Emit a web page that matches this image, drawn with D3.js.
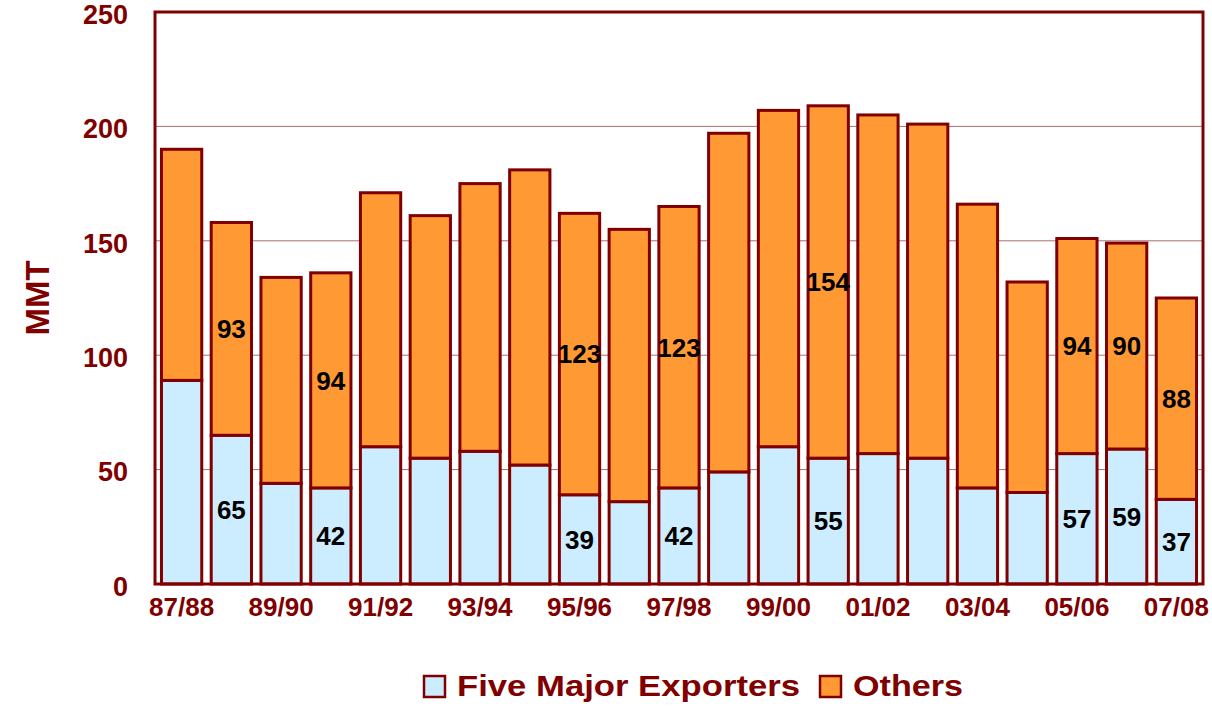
<!DOCTYPE html>
<html>
<head>
<meta charset="utf-8">
<script src="https://cdn.jsdelivr.net/npm/d3@7"></script>
<style>
  body { margin: 0; background: #fff; }
  svg text { font-family: "Liberation Sans", Arial, sans-serif; font-weight: bold; }
</style>
</head>
<body>
<div id="chart"></div>
<script>
const w = 1212;
const h = 718;

// marketing years
const years = ["87/88", "88/89", "89/90", "90/91", "91/92", "92/93", "93/94", "94/95",
    "95/96", "96/97", "97/98", "98/99", "99/00", "00/01", "01/02", "02/03",
    "03/04", "04/05", "05/06", "06/07", "07/08"];

// MMT
const fiveMajor = [89, 65, 44, 42, 60, 55, 58, 52, 39, 36, 42, 49, 60, 55, 57, 55, 42, 40, 57, 59, 37];
const others = [101, 93, 90, 94, 111, 106, 117, 129, 123, 119, 123, 148, 147, 154, 148, 146, 124, 92, 94, 90, 88];

// which bars carry a value label
const labelled = ["88/89", "90/91", "95/96", "97/98", "00/01", "05/06", "06/07", "07/08"];

const yTicks = [0, 50, 100, 150, 200, 250];
const seriesNames = ["Five Major Exporters", "Others"];
const colors = ["#CCECFF", "#FF9933"];
const dark = "#800000";

const plotLeft = 155, plotRight = 1203, plotTop = 12, plotBottom = 584;

const svg = d3.select("#chart")
    .append("svg")
    .attr("width", w)
    .attr("height", h);

const x = d3.scaleBand()
    .domain(years)
    .range([plotLeft, plotRight])
    .paddingInner(0.13)
    .paddingOuter(0.1);

const y = d3.scaleLinear()
    .domain([0, 250])
    .range([plotBottom, plotTop]);

// gridlines
svg.append("g")
    .selectAll("line")
    .data(yTicks.slice(1, -1))
    .enter()
    .append("line")
    .attr("x1", plotLeft)
    .attr("x2", plotRight)
    .attr("y1", d => y(d))
    .attr("y2", d => y(d))
    .attr("stroke", "#A87070")
    .attr("stroke-width", 1);

// stack the two series
const rows = years.map((yr, i) => ({ year: yr, five: fiveMajor[i], others: others[i] }));
const stacked = d3.stack().keys(["five", "others"])(rows);

svg.append("g")
    .selectAll("g")
    .data(stacked)
    .enter()
    .append("g")
    .attr("fill", (d, i) => colors[i])
    .selectAll("rect")
    .data(d => d)
    .enter()
    .append("rect")
    .attr("x", d => x(d.data.year) + 1.5)
    .attr("width", x.bandwidth() - 3)
    .attr("y", d => y(d[1]))
    .attr("height", d => y(d[0]) - y(d[1]))
    .attr("stroke", dark)
    .attr("stroke-width", 3);

// value labels
const labelG = svg.append("g")
    .attr("font-size", 26)
    .attr("fill", "#000")
    .attr("text-anchor", "middle");

stacked.forEach(s => {
    labelG.selectAll(null)
        .data(s.filter(d => labelled.includes(d.data.year)))
        .enter()
        .append("text")
        .attr("x", d => x(d.data.year) + x.bandwidth() / 2)
        .attr("y", d => (y(d[0]) + y(d[1])) / 2)
        .attr("dy", "0.36em")
        .text(d => d[1] - d[0]);
});

// frame
svg.append("rect")
    .attr("x", plotLeft)
    .attr("y", plotTop)
    .attr("width", plotRight - plotLeft)
    .attr("height", plotBottom - plotTop)
    .attr("fill", "none")
    .attr("stroke", dark)
    .attr("stroke-width", 3);

// y axis
const yAxis = d3.axisLeft(y).tickValues(yTicks).tickSize(0).tickPadding(27);
svg.append("g")
    .attr("transform", `translate(${plotLeft}, 0)`)
    .call(yAxis)
    .call(g => g.select(".domain").remove())
    .selectAll("text")
    .attr("font-size", 27)
    .attr("dy", "0.42em")
    .attr("fill", dark);

// x axis, every other year
const xAxis = d3.axisBottom(x).tickSize(0).tickPadding(14)
    .tickFormat((d, i) => i % 2 === 0 ? d : "");
svg.append("g")
    .attr("transform", `translate(0, ${plotBottom})`)
    .call(xAxis)
    .call(g => g.select(".domain").remove())
    .selectAll("text")
    .attr("font-size", 26)
    .attr("fill", dark);

// y title
svg.append("text")
    .attr("transform", `translate(49, 298) rotate(-90)`)
    .attr("text-anchor", "middle")
    .attr("font-size", 33)
    .attr("fill", dark)
    .text("MMT");

// legend
const legendX = [424, 820];
const legendLen = [343, 110];
const legend = svg.append("g");
seriesNames.forEach((name, i) => {
    legend.append("rect")
        .attr("x", legendX[i])
        .attr("y", 676)
        .attr("width", 21)
        .attr("height", 21)
        .attr("fill", colors[i])
        .attr("stroke", dark)
        .attr("stroke-width", 2.5);
    legend.append("text")
        .attr("x", legendX[i] + 33)
        .attr("y", 696)
        .attr("font-size", 29)
        .attr("textLength", legendLen[i])
        .attr("lengthAdjust", "spacingAndGlyphs")
        .attr("fill", dark)
        .text(name);
});
</script>
</body>
</html>
